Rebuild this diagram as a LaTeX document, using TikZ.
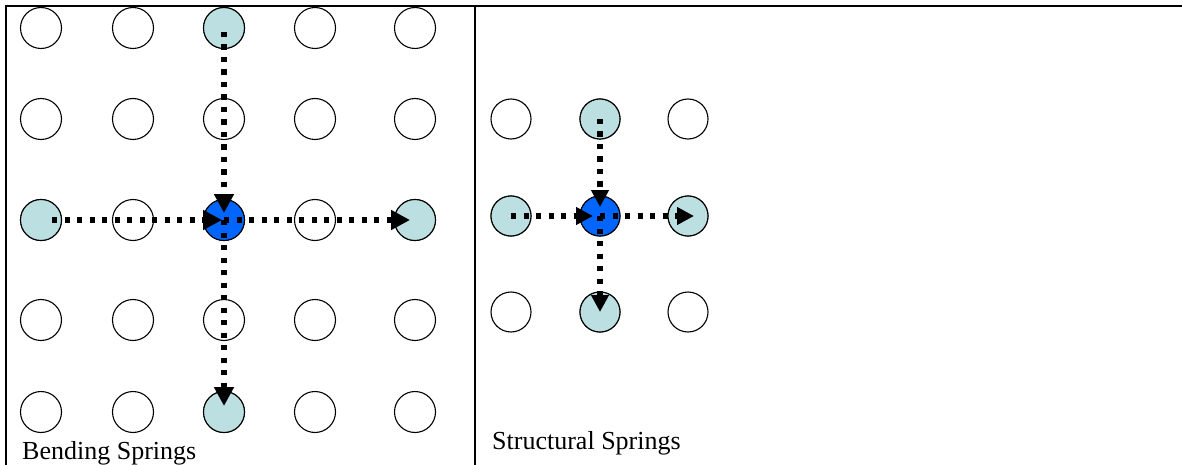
\documentclass[tikz,border=0pt]{standalone}
\usepackage{fontspec}
\setmainfont{Liberation Serif}
\usetikzlibrary{arrows.meta,calc}
\definecolor{lightball}{RGB}{188,224,226}
\definecolor{centerball}{RGB}{0,102,255}
\begin{document}
\begin{tikzpicture}[x=1pt,y=-1pt,
  ball/.style={circle,draw=black,line width=1.1pt,minimum size=41pt,inner sep=0pt,fill=white},
  sball/.style={ball,minimum size=40pt},
  spring/.style={line width=5.2pt,dash pattern=on 5.2pt off 7.3pt,-{Triangle[length=19pt,width=19pt]}},
  sspring/.style={spring,-{Triangle[length=17pt,width=17pt]}},
  framebar/.style={line width=2.2pt},
  txt/.style={anchor=base west,inner sep=0pt,font=\fontsize{26}{30}\selectfont}]
\useasboundingbox (0,0) rectangle (1182,465);
% frame
\draw[framebar] (6,465) -- (6,6) -- (1182,6);
\draw[framebar] (475,6) -- (475,465);
% left grid (bending springs)
\foreach \x [count=\i] in {41,133,224,315,415}
  \foreach \y [count=\j] in {28,119,220,320,412}
    \node[ball] (b\i\j) at (\x,\y) {};
\node[ball,fill=lightball] (b31) at (224,28) {};
\node[ball,fill=lightball] (b13) at (41,220) {};
\node[ball,fill=lightball] (b53) at (415,220) {};
\node[ball,fill=lightball] (b35) at (224,412) {};
\node[ball,fill=centerball] (b33) at (224,220) {};
\draw[spring,shorten <=11pt,shorten >=2pt] (b13.center) -- (b33.center);
\draw[spring,shorten >=5pt] (b33.center) -- (b53.center);
\draw[spring,shorten <=4pt,shorten >=7pt] (b31.center) -- (b33.center);
\draw[spring,shorten >=6pt] (b33.center) -- (b35.center);
% right grid (structural springs)
\foreach \x [count=\i] in {511,600,688}
  \foreach \y [count=\j] in {119,216,312}
    \node[sball] (s\i\j) at (\x,\y) {};
\node[sball,fill=lightball] (s21) at (600,119) {};
\node[sball,fill=lightball] (s12) at (511,216) {};
\node[sball,fill=lightball] (s32) at (688,216) {};
\node[sball,fill=lightball] (s23) at (600,312) {};
\node[sball,fill=centerball] (s22) at (600,216) {};
\draw[sspring,shorten >=7pt] (s12.center) -- (s22.center);
\draw[sspring] (s22.center) -- ($(s32.center)+(6,0)$);
\draw[sspring,shorten >=9pt] (s21.center) -- (s22.center);
\draw[sspring] (s22.center) -- (s23.center);
% labels
\node[txt] (bl) at (22,459) {Bending Springs};
\node[txt] (sl) at (492,449) {Structural Springs};
\end{tikzpicture}
\end{document}
